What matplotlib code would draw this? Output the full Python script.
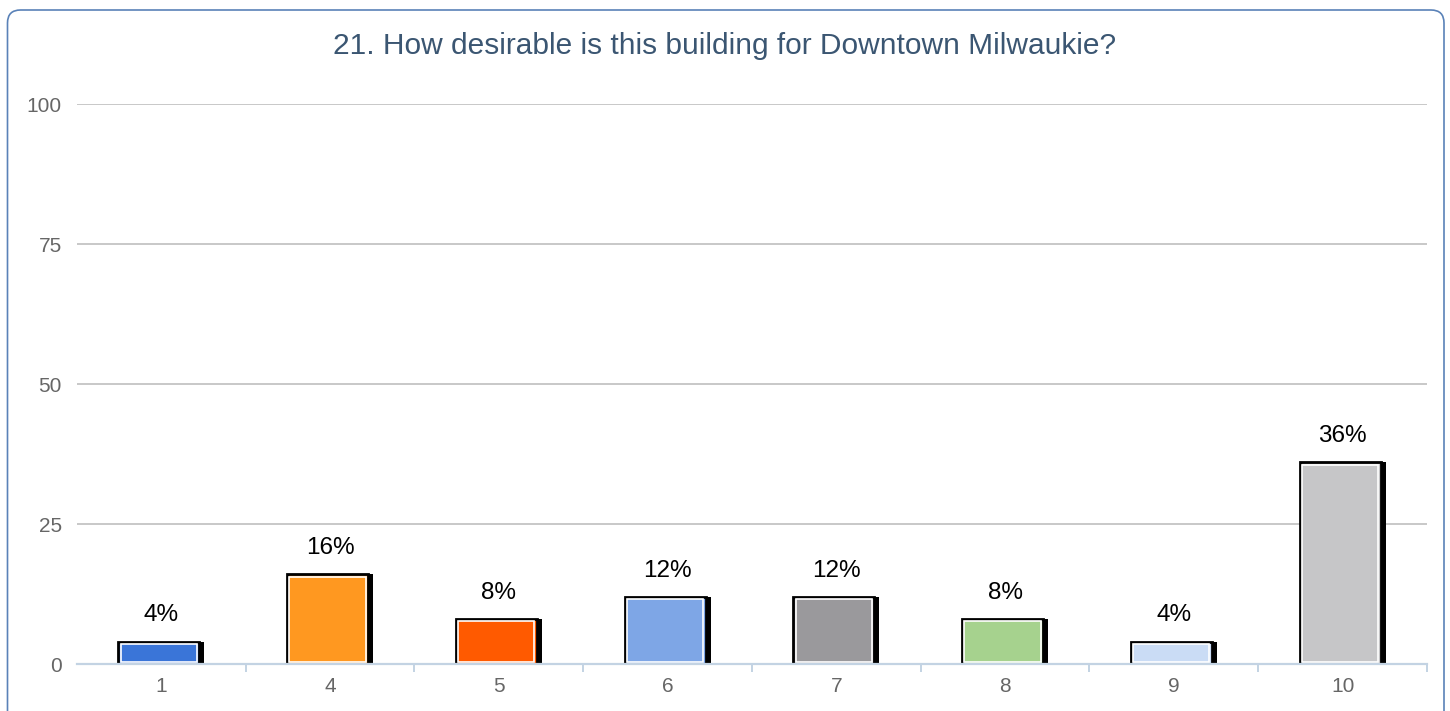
import numpy as np
import matplotlib.pyplot as plt
from matplotlib.patches import FancyBboxPatch

plt.rcParams['font.family'] = ['Liberation Sans', 'DejaVu Sans']

# data
categories = ['1', '4', '5', '6', '7', '8', '9', '10']
values = [4, 16, 8, 12, 12, 8, 4, 36]
bar_colors = ['#3a75d8', '#ff9820', '#ff5a00', '#7ea6e6',
              '#9a999c', '#a6d28e', '#cadcf5', '#c6c6c8']
title = '21. How desirable is this building for Downtown Milwaukie?'
yticks = [0, 25, 50, 75, 100]

fig = plt.figure(figsize=(14.5, 7.11), dpi=100)
fig.patch.set_facecolor('white')

# rounded frame around the chart (bottom edge is cut off)
frame = FancyBboxPatch((0.075, -0.5), 14.365, 7.51,
                       boxstyle='round,pad=0,rounding_size=0.13',
                       transform=fig.dpi_scale_trans, facecolor='none',
                       edgecolor='#5a82b8', linewidth=1.2)
fig.patches.append(frame)

ax = fig.add_axes([0.0531, 0.0661, 0.931, 0.7876])
x = np.arange(len(categories))

body_w = 0.48
shadow_w = 0.03
left = x - 0.255

# shadow on the right side
ax.bar(left + body_w, values, width=shadow_w, align='edge',
       color='black', zorder=3)
# bar body with black outline
ax.bar(left, values, width=body_w, align='edge', color=bar_colors,
       edgecolor='black', linewidth=2.0, zorder=4)
# inner white line
ax.bar(left + 0.014, np.array(values) - 0.8, bottom=0.4,
       width=body_w - 0.028, align='edge', color='none',
       edgecolor='white', linewidth=1.2, zorder=5)

for xi, v in zip(x, values):
    ax.annotate(f'{v}%', (xi, v), xytext=(0, 11), textcoords='offset points',
                ha='center', va='bottom', fontsize=17.5, color='black')

ax.set_xlim(-0.5, len(categories) - 0.5)
ax.set_ylim(0, 100)
ax.set_yticks(yticks)
ax.set_xticks(x)
ax.set_xticklabels(categories)
ax.set_xticks(np.append(x[1:] - 0.5, len(categories) - 0.5), minor=True)

ax.tick_params(axis='y', length=0, pad=11, labelsize=15, labelcolor='#666666')
ax.tick_params(axis='x', which='major', length=0, pad=9, labelsize=15,
               labelcolor='#666666')
ax.tick_params(axis='x', which='minor', length=6, width=1.4, color='#c3d3e3')

ax.grid(axis='y', color='#c8c8c8', linewidth=1.4, zorder=0)
ax.set_axisbelow(True)
for s in ['top', 'right', 'left']:
    ax.spines[s].set_visible(False)
ax.spines['bottom'].set_color('#c3d3e3')
ax.spines['bottom'].set_linewidth(1.6)
ax.spines['bottom'].set_zorder(6)

fig.text(0.5, 0.935, title, ha='center', va='center', fontsize=21.5,
         color='#3b5672')

fig.savefig('out.png', dpi=100)
